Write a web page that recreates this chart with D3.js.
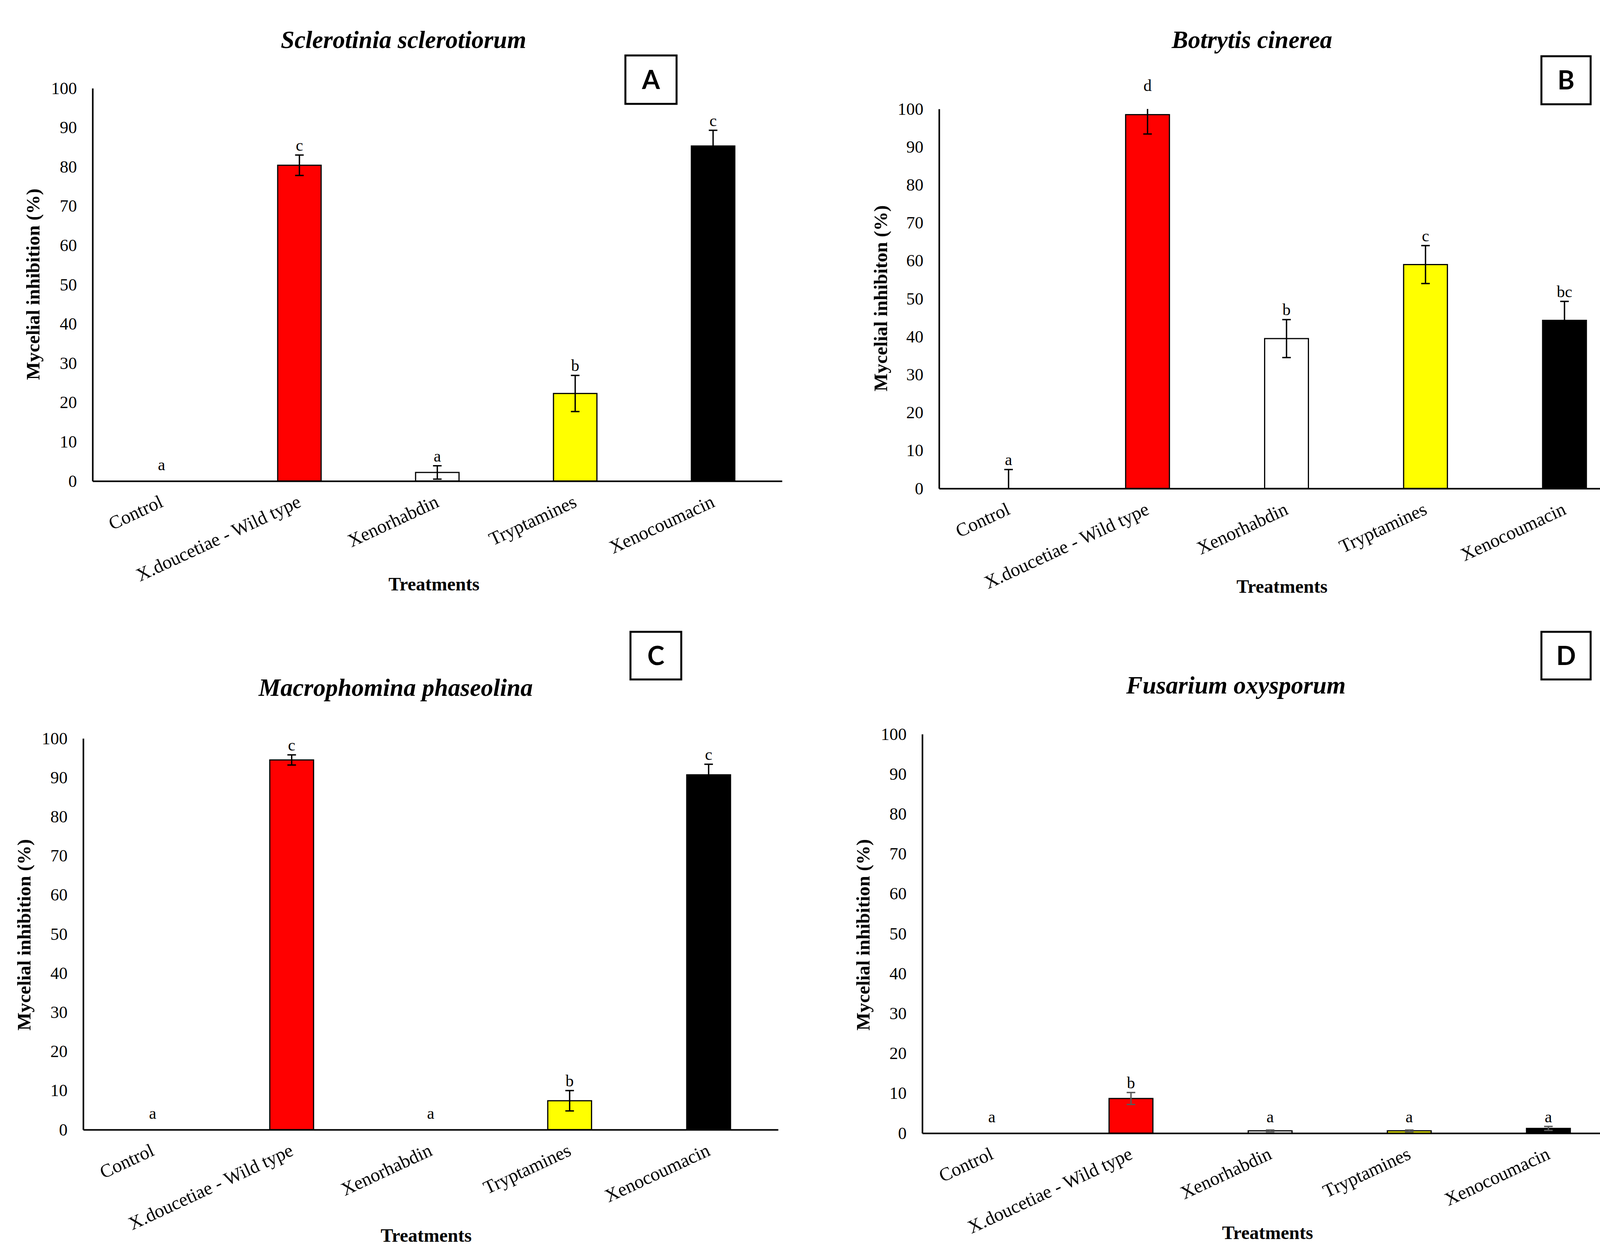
<!DOCTYPE html>
<html>
<head>
<meta charset="utf-8">
<script src="https://cdn.jsdelivr.net/npm/d3@7"></script>
<style>
  body { margin: 0; background: #fff; }
  svg text { font-family: "Liberation Serif", "Times New Roman", serif; fill: #000; }
</style>
</head>
<body>
<div id="plot"></div>
<script>
const categories = ["Control", "X.doucetiae - Wild type", "Xenorhabdin", "Tryptamines", "Xenocoumacin"];
const yTicks = [0, 10, 20, 30, 40, 50, 60, 70, 80, 90, 100];
const panelTags = ["A", "B", "C", "D"];
const titles = ["Sclerotinia sclerotiorum", "Botrytis cinerea", "Macrophomina phaseolina", "Fusarium oxysporum"];
const yLabels = ["Mycelial inhibition (%)", "Mycelial inhibiton (%)", "Mycelial inhibition (%)", "Mycelial inhibition (%)"];
const xLabel = "Treatments";

const valuesA = [0, 80.4, 2.2, 22.3, 85.3];
const errorsA = [0, 2.6, 1.7, 4.6, 4.0];
const lettersA = ["a", "c", "a", "b", "c"];

const valuesB = [0, 98.5, 39.5, 59.0, 44.3];
const errorsB = [5.0, 5.1, 5.0, 5.0, 5.0];
const lettersB = ["a", "d", "b", "c", "bc"];

const valuesC = [0, 94.5, 0, 7.4, 90.7];
const errorsC = [0, 1.3, 0, 2.6, 2.7];
const lettersC = ["a", "c", "a", "b", "c"];

const valuesD = [0, 8.7, 0.6, 0.6, 1.2];
const errorsD = [0, 1.5, 0.2, 0.2, 0.5];
const lettersD = ["a", "b", "a", "a", "a"];

const barColors = ["#ffffff", "#ff0000", "#ffffff", "#ffff00", "#000000"];

// layout of each panel, in page pixels
const panels = [
  { values: valuesA, errors: errorsA, letters: lettersA, x0: 237, x1: 2002, yZero: 1232, yTop: 226,
    titleX: 1033, titleY: 123, box: [1601, 142, 131, 124], yLabX: 84, yLabY: 728, xLabX: 1111, xLabY: 1512, errColor: "#000" },
  { values: valuesB, errors: errorsB, letters: lettersB, x0: 2404, x1: 4183, yZero: 1251, yTop: 279,
    titleX: 3205, titleY: 123, box: [3946, 144, 126, 123], yLabX: 2254, yLabY: 764, xLabX: 3282, xLabY: 1518, errColor: "#000" },
  { values: valuesC, errors: errorsC, letters: lettersC, x0: 213, x1: 1992, yZero: 2893, yTop: 1891,
    titleX: 1013, titleY: 1782, box: [1614, 1618, 130, 122], yLabX: 61, yLabY: 2394, xLabX: 1091, xLabY: 3180, errColor: "#000" },
  { values: valuesD, errors: errorsD, letters: lettersD, x0: 2361, x1: 4142, yZero: 2902, yTop: 1880,
    titleX: 3164, titleY: 1776, box: [3946, 1618, 126, 122], yLabX: 2209, yLabY: 2394, xLabX: 3245, xLabY: 3173, errColor: "#595959" }
];

const svg = d3.select("#plot")
  .append("svg")
    .attr("width", 4228)
    .attr("height", 3219)
    .style("display", "block");

panels.forEach((p, k) => {
  const g = svg.append("g");

  const x = d3.scaleBand()
    .domain(categories)
    .range([p.x0, p.x1])
    .paddingInner(0.685)
    .paddingOuter(0.3425);

  const y = d3.scaleLinear()
    .domain([0, 100])
    .range([p.yZero, p.yTop]);

  // bars
  g.selectAll(".bar")
    .data(p.values)
    .enter()
    .append("rect")
      .attr("class", "bar")
      .attr("x", (d, i) => x(categories[i]))
      .attr("y", d => y(d))
      .attr("width", x.bandwidth())
      .attr("height", d => p.yZero - y(d))
      .attr("fill", (d, i) => barColors[i])
      .attr("stroke", "#000")
      .attr("stroke-width", 3)
      .style("display", d => d > 0 ? null : "none");

  // error bars, cut at the axis limits
  const cx = i => x(categories[i]) + x.bandwidth() / 2;
  const errs = g.selectAll(".err")
    .data(p.values.map((v, i) => ({ v, e: p.errors[i], i })).filter(d => d.e > 0))
    .enter()
    .append("g")
      .attr("class", "err")
      .attr("stroke", p.errColor)
      .attr("stroke-width", 3.5);

  errs.append("line")
    .attr("x1", d => cx(d.i))
    .attr("x2", d => cx(d.i))
    .attr("y1", d => y(Math.max(0, d.v - d.e)))
    .attr("y2", d => y(Math.min(100, d.v + d.e)));

  errs.filter(d => d.v + d.e <= 100).append("line")
    .attr("x1", d => cx(d.i) - 11)
    .attr("x2", d => cx(d.i) + 11)
    .attr("y1", d => y(d.v + d.e))
    .attr("y2", d => y(d.v + d.e));

  errs.filter(d => d.v - d.e >= 0).append("line")
    .attr("x1", d => cx(d.i) - 11)
    .attr("x2", d => cx(d.i) + 11)
    .attr("y1", d => y(d.v - d.e))
    .attr("y2", d => y(d.v - d.e));

  // significance letters
  g.selectAll(".letter")
    .data(p.letters)
    .enter()
    .append("text")
      .attr("class", "letter")
      .attr("x", (d, i) => cx(i))
      .attr("y", (d, i) => Math.min(y(p.values[i] + p.errors[i]) - 11, p.yZero - 28))
      .attr("text-anchor", "middle")
      .style("font-size", "42px")
      .text(d => d);

  // y axis
  const yAxis = d3.axisLeft(y)
    .tickValues(yTicks)
    .tickSize(0)
    .tickPadding(40);

  const ya = g.append("g")
    .attr("transform", `translate(${p.x0},0)`)
    .call(yAxis);
  ya.select(".domain").attr("stroke", "#000").attr("stroke-width", 4);
  ya.selectAll("text")
    .style("font-size", "44px")
    .style("font-family", "'Liberation Serif', 'Times New Roman', serif");

  // x axis
  const xAxis = d3.axisBottom(x)
    .tickSize(0)
    .tickSizeOuter(0)
    .tickPadding(0);

  const xa = g.append("g")
    .attr("transform", `translate(0,${p.yZero})`)
    .call(xAxis);
  xa.select(".domain").attr("stroke", "#000").attr("stroke-width", 4);
  xa.selectAll("text")
    .attr("y", 0)
    .attr("dy", 0)
    .attr("text-anchor", "end")
    .attr("transform", "translate(7,64) rotate(-25)")
    .style("font-size", "48px")
    .style("font-family", "'Liberation Serif', 'Times New Roman', serif");

  // titles and labels
  g.append("text")
    .attr("x", p.titleX)
    .attr("y", p.titleY)
    .attr("text-anchor", "middle")
    .style("font-size", "63px")
    .style("font-weight", "bold")
    .style("font-style", "italic")
    .text(titles[k]);

  g.append("text")
    .attr("transform", `translate(${p.yLabX},${p.yLabY}) rotate(-90)`)
    .attr("dy", "0.35em")
    .attr("text-anchor", "middle")
    .style("font-size", "49px")
    .style("font-weight", "bold")
    .text(yLabels[k]);

  g.append("text")
    .attr("x", p.xLabX)
    .attr("y", p.xLabY)
    .attr("text-anchor", "middle")
    .style("font-size", "48px")
    .style("font-weight", "bold")
    .text(xLabel);

  // panel tag box
  g.append("rect")
    .attr("x", p.box[0])
    .attr("y", p.box[1])
    .attr("width", p.box[2])
    .attr("height", p.box[3])
    .attr("fill", "none")
    .attr("stroke", "#000")
    .attr("stroke-width", 5);

  g.append("text")
    .attr("x", p.box[0] + p.box[2] / 2)
    .attr("y", p.box[1] + p.box[3] / 2)
    .attr("dy", "0.36em")
    .attr("text-anchor", "middle")
    .style("font-family", "'Liberation Sans Narrow', Lato, 'Liberation Sans', sans-serif")
    .style("font-size", "66px")
    .style("font-weight", "bold")
    .text(panelTags[k]);
});
</script>
</body>
</html>
